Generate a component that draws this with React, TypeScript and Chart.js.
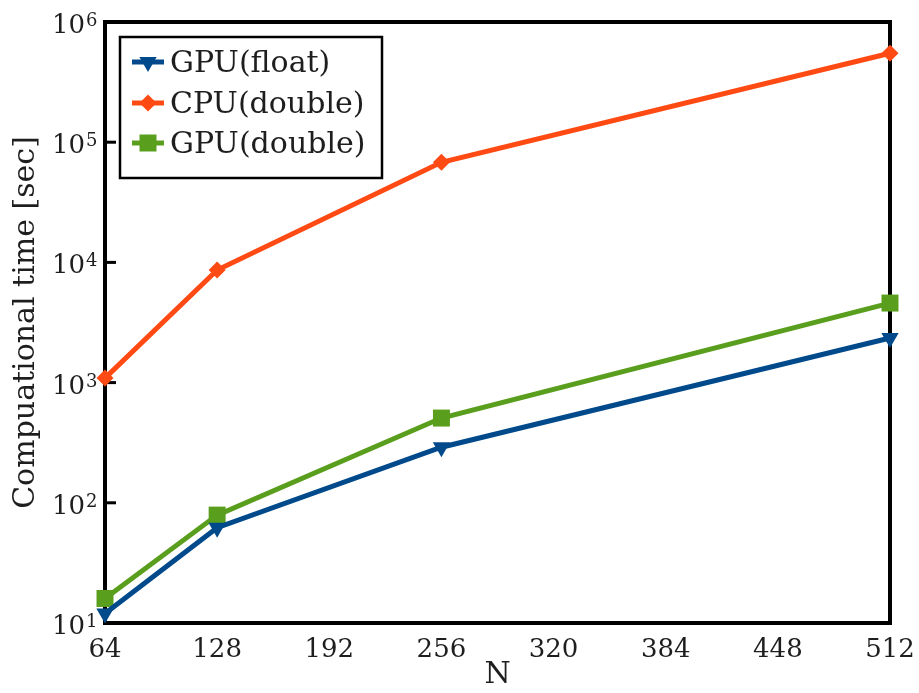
import React, { useEffect, useRef } from 'react';
import { Chart, registerables } from 'chart.js';

Chart.register(...registerables);

const nValues = [64, 128, 256, 512];
const gpuFloat = [12, 62, 290, 2350];
const cpuDouble = [1090, 8650, 68000, 550000];
const gpuDouble = [16, 79, 507, 4590];
const xTickValues = [64, 128, 192, 256, 320, 384, 448, 512];
const yDecades = [1, 2, 3, 4, 5, 6];
const seriesLabels = ['GPU(float)', 'CPU(double)', 'GPU(double)'];
const seriesColors = ['#004a8c', '#ff4a14', '#5a9e1e'];
const seriesMarkers = ['triangle', 'rectRot', 'rect'];
const xTitle = 'N';
const yTitle = 'Compuational time [sec]';

const SERIF = '"DejaVu Serif", serif';
const TEXT = '#1e1e1e';

function drawMarker(ctx: CanvasRenderingContext2D, kind: string, x: number, y: number, color: string) {
  ctx.save();
  ctx.fillStyle = color;
  ctx.beginPath();
  if (kind === 'triangle') {
    const r = 10;
    ctx.moveTo(x, y + r);
    ctx.lineTo(x - r * 0.866, y - r / 2);
    ctx.lineTo(x + r * 0.866, y - r / 2);
  } else if (kind === 'rectRot') {
    const r = 8.5;
    ctx.moveTo(x - r, y);
    ctx.lineTo(x, y - r);
    ctx.lineTo(x + r, y);
    ctx.lineTo(x, y + r);
  } else {
    const s = 8.5;
    ctx.rect(x - s, y - s, 2 * s, 2 * s);
  }
  ctx.closePath();
  ctx.fill();
  ctx.restore();
}

const framePlugin = {
  id: 'framePlugin',
  beforeDatasetsDraw(chart: any) {
    const { ctx, chartArea } = chart;
    const { left, top, right, bottom } = chartArea;
    const yScale = chart.scales.y;
    ctx.save();
    ctx.strokeStyle = '#000';
    ctx.lineWidth = 4;
    ctx.strokeRect(left, top, right - left, bottom - top);
    ctx.lineWidth = 3;
    for (const d of yDecades) {
      const py = yScale.getPixelForValue(Math.pow(10, d));
      ctx.beginPath();
      ctx.moveTo(left, py);
      ctx.lineTo(left + 11, py);
      ctx.stroke();
    }
    ctx.fillStyle = TEXT;
    ctx.textBaseline = 'alphabetic';
    for (const d of yDecades) {
      const py = yScale.getPixelForValue(Math.pow(10, d));
      ctx.font = `26px ${SERIF}`;
      ctx.textAlign = 'right';
      ctx.fillText('10', left - 20, py + 11);
      ctx.font = `18px ${SERIF}`;
      ctx.textAlign = 'left';
      ctx.fillText(String(d), left - 19, py + 4);
    }
    ctx.restore();
  },
  afterDatasetsDraw(chart: any) {
    const { ctx, chartArea } = chart;
    const bx = chartArea.left + 15;
    const by = chartArea.top + 15;
    const bw = 262;
    const bh = 141;
    ctx.save();
    ctx.fillStyle = '#fff';
    ctx.fillRect(bx, by, bw, bh);
    ctx.strokeStyle = '#000';
    ctx.lineWidth = 2.5;
    ctx.strokeRect(bx, by, bw, bh);
    const rows = [by + 25, by + 66, by + 106];
    chart.data.datasets.forEach((ds: any, i: number) => {
      const ry = rows[i];
      ctx.strokeStyle = ds.borderColor;
      ctx.lineWidth = 5;
      ctx.beginPath();
      ctx.moveTo(bx + 12, ry);
      ctx.lineTo(bx + 44, ry);
      ctx.stroke();
      drawMarker(ctx, seriesMarkers[i], bx + 28, ry, ds.borderColor);
      ctx.fillStyle = TEXT;
      ctx.font = `30px ${SERIF}`;
      ctx.textAlign = 'left';
      ctx.textBaseline = 'middle';
      ctx.fillText(ds.label, bx + 50, ry + 2);
    });
    ctx.restore();
  },
};

export default function App() {
  const ref = useRef<HTMLCanvasElement | null>(null);
  useEffect(() => {
    if (!ref.current) return;
    const series = [gpuFloat, cpuDouble, gpuDouble];
    const chart = new Chart(ref.current, {
      type: 'line',
      data: {
        datasets: series.map((vals, i) => ({
          label: seriesLabels[i],
          data: nValues.map((n, j) => ({ x: n, y: vals[j] })),
          borderColor: seriesColors[i],
          backgroundColor: seriesColors[i],
          borderWidth: 5,
          pointStyle: seriesMarkers[i] as any,
          pointRotation: i === 0 ? 180 : 0,
          pointRadius: i === 0 ? 10 : i === 1 ? 8.5 : 12,
          pointBorderWidth: 0,
          tension: 0,
          clip: false as any,
        })),
      },
      options: {
        responsive: false,
        animation: false,
        layout: { padding: { top: 22, right: 29, left: 0, bottom: 0 } },
        plugins: { legend: { display: false }, tooltip: { enabled: false } },
        scales: {
          x: {
            type: 'linear',
            min: 64,
            max: 512,
            afterBuildTicks: (scale: any) => {
              scale.ticks = xTickValues.map((v) => ({ value: v }));
            },
            afterFit: (scale: any) => {
              scale.height = 70;
              scale.paddingLeft = 0;
              scale.paddingRight = 0;
            },
            grid: { display: false, drawTicks: false },
            border: { display: false },
            ticks: {
              color: TEXT,
              font: { family: SERIF, size: 26 },
              padding: 12,
              maxRotation: 0,
              autoSkip: false,
            },
            title: {
              display: true,
              text: xTitle,
              color: TEXT,
              font: { family: SERIF, size: 30 },
              padding: { top: 0, bottom: 0 },
            },
          },
          y: {
            type: 'logarithmic',
            min: 10,
            max: 1000000,
            afterBuildTicks: (scale: any) => {
              scale.ticks = yDecades.map((d) => ({ value: Math.pow(10, d) }));
            },
            afterFit: (scale: any) => {
              scale.width = 105;
              scale.paddingTop = 0;
              scale.paddingBottom = 0;
            },
            grid: { display: false, drawTicks: false },
            border: { display: false },
            ticks: { display: false },
            title: {
              display: true,
              text: yTitle,
              color: TEXT,
              font: { family: SERIF, size: 30 },
              padding: { top: 8, bottom: 0 },
            },
          },
        },
      },
      plugins: [framePlugin],
    });
    return () => chart.destroy();
  }, []);
  return (
    <div style={{ position: 'fixed', left: 0, top: 0, width: 919, height: 693, background: '#fff' }}>
      <canvas ref={ref} width={919} height={693} />
    </div>
  );
}
